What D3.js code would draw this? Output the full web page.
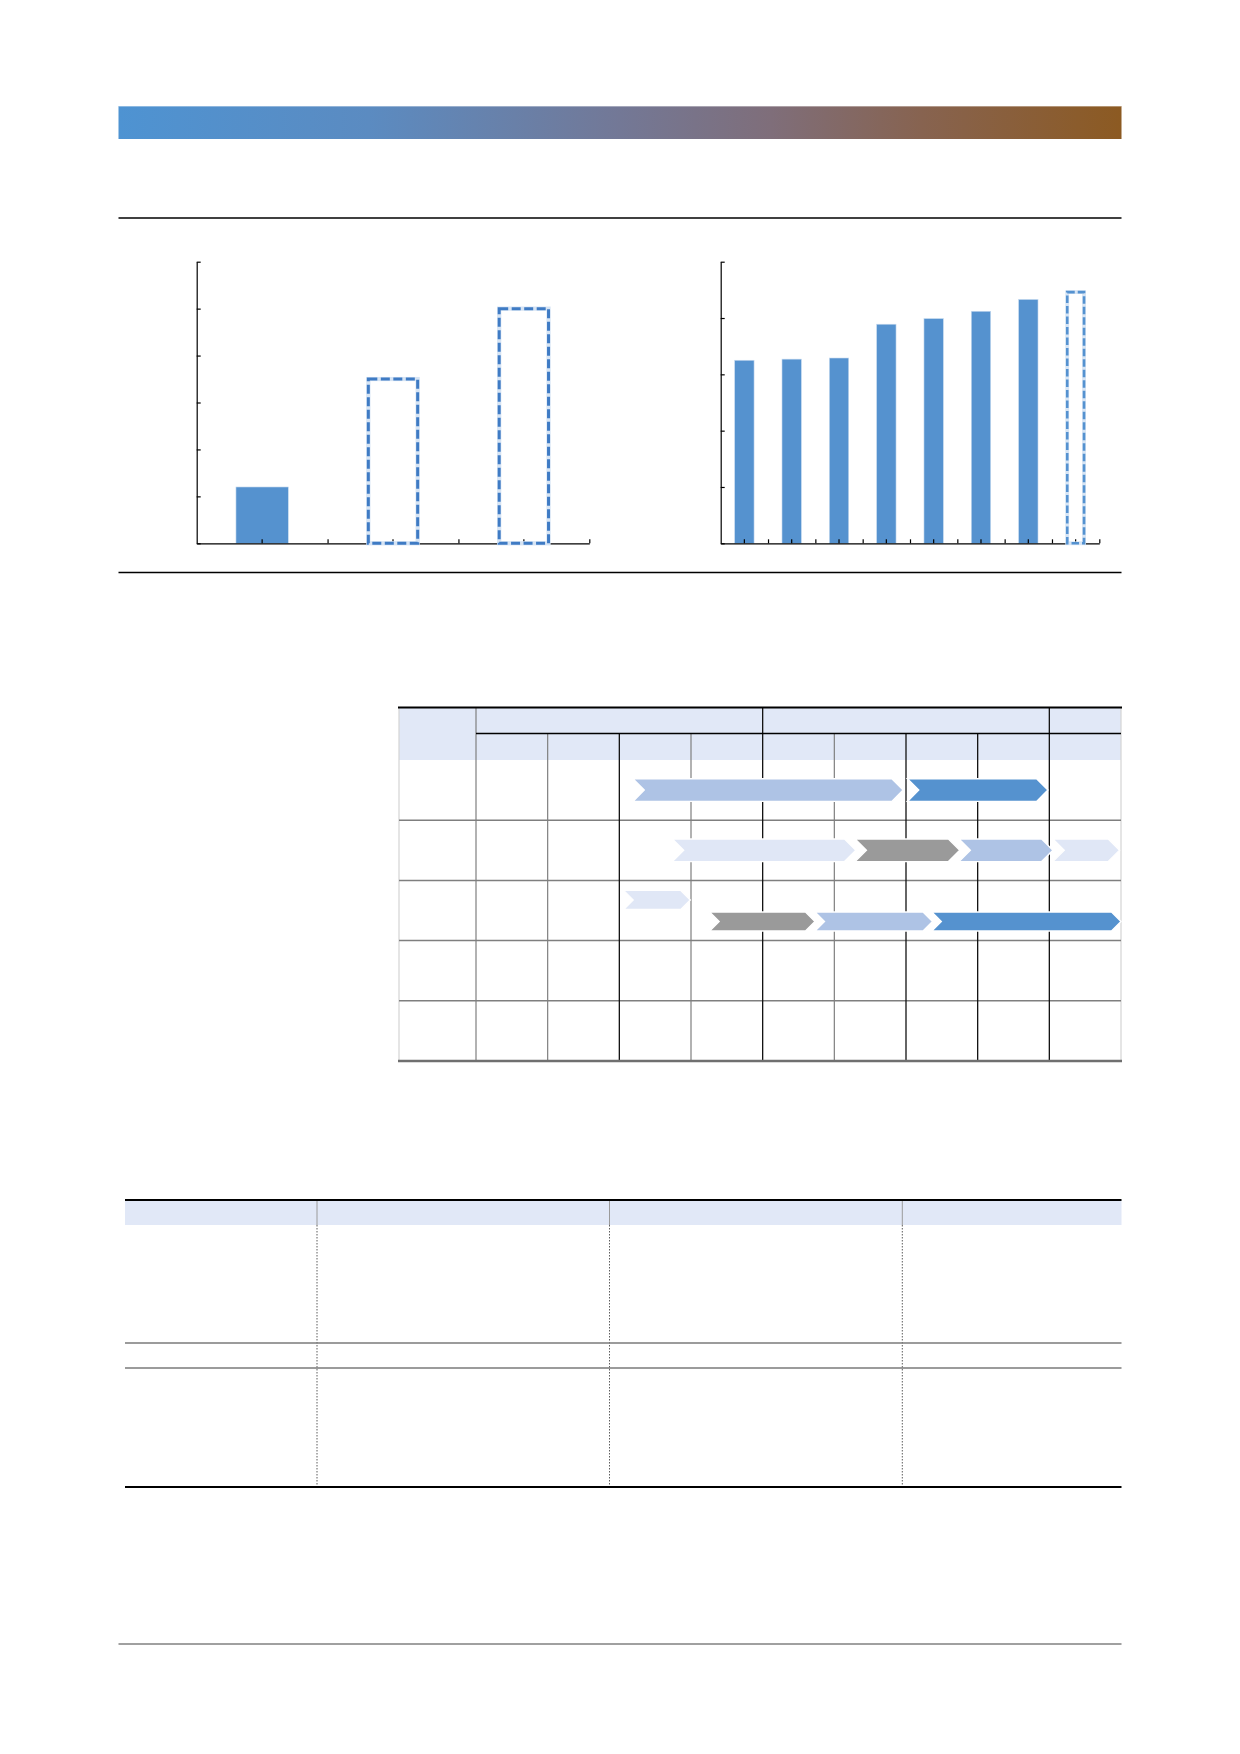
<!DOCTYPE html>
<html><head><meta charset="utf-8">
<script src="https://cdn.jsdelivr.net/npm/d3@7"></script>
<style>html,body{margin:0;padding:0;background:#fff}svg{display:block}</style>
</head><body>
<script>
// ---------- DATA ----------
const leftCategories = ["c1", "c2", "c3"];
const leftValues = [1.2, 3.5, 5.0];
const leftProjected = [false, true, true];
const leftTicks = [0, 1, 2, 3, 4, 5, 6];

const rightCategories = ["r1", "r2", "r3", "r4", "r5", "r6", "r7", "r8"];
const rightValues = [3.25, 3.27, 3.29, 3.89, 3.99, 4.12, 4.33, 4.46];
const rightProjected = [false, false, false, false, false, false, false, true];
const rightTicks = [0, 1, 2, 3, 4, 5];

const ganttPeriods = ["p1", "p2", "p3", "p4", "p5", "p6", "p7", "p8", "p9"];
const ganttGroupStarts = [0, 4, 8];
const ganttGroupSpans = [4, 4, 1];
const ganttRows = ["g1", "g2", "g3", "g4", "g5"];
const ganttRowLanes = [1, 1, 2, 1, 1];
const ganttStrongBoundaries = [2, 4, 6, 7, 8];
const ganttTasks = [
  {row: 0, lane: 0, start: 2.19, end: 5.96, kind: "mid"},
  {row: 0, lane: 0, start: 6.02, end: 7.98, kind: "dark"},
  {row: 1, lane: 0, start: 2.74, end: 5.30, kind: "pale"},
  {row: 1, lane: 0, start: 5.29, end: 6.75, kind: "gray"},
  {row: 1, lane: 0, start: 6.74, end: 8.05, kind: "mid"},
  {row: 1, lane: 0, start: 8.05, end: 8.98, kind: "pale"},
  {row: 2, lane: 0, start: 2.06, end: 2.99, kind: "pale"},
  {row: 2, lane: 1, start: 3.26, end: 4.73, kind: "gray"},
  {row: 2, lane: 1, start: 4.73, end: 6.37, kind: "mid"},
  {row: 2, lane: 1, start: 6.36, end: 9.00, kind: "dark"}
];

const tableColumns = ["t1", "t2", "t3", "t4"];
const tableRows = ["h", "b1", "b2", "b3"];

// ---------- STYLE ----------
const BAR = "#5592cf";
const DASH1 = "#3f7bc4";
const DASH2 = "#5592d0";
const HEAD = "#e1e8f7";
const kindColor = {pale: "#e0e7f6", mid: "#aec3e5", dark: "#5592cf", gray: "#9a9a9a"};

const svg = d3.select("body").append("svg").attr("width", 1240).attr("height", 1754);
svg.append("rect").attr("width", 1240).attr("height", 1754).attr("fill", "#fff");

// ---------- HEADER BAND ----------
const defs = svg.append("defs");
const grad = defs.append("linearGradient").attr("id", "band").attr("x1", 0).attr("x2", 1).attr("y1", 0).attr("y2", 0);
[[0, "#4e93d2"], [0.25, "#5b8bc1"], [0.5, "#737896"], [0.65, "#7f6e7a"], [0.8, "#876350"], [1, "#8c5a22"]]
  .forEach(([o, c]) => grad.append("stop").attr("offset", o).attr("stop-color", c));
svg.append("rect").attr("x", 118.5).attr("y", 106).attr("width", 1003).attr("height", 33).attr("fill", "url(#band)");
svg.append("line").attr("x1", 118.5).attr("x2", 1121.5).attr("y1", 106.5).attr("y2", 106.5)
  .attr("stroke", "#fff").attr("stroke-opacity", 0.35).attr("stroke-width", 1);

// rules around charts
[218, 572.5].forEach(y => svg.append("line").attr("x1", 118.5).attr("x2", 1121.5).attr("y1", y).attr("y2", y)
  .attr("stroke", "#000").attr("stroke-width", 1.4));

// ---------- BAR CHART helper ----------
function barChart(opts) {
  const g = svg.append("g");
  const x = d3.scaleBand().domain(opts.categories).range([opts.x0, opts.x1])
    .paddingInner(opts.pad).paddingOuter(opts.pad / 2);
  const y = d3.scaleLinear().domain([0, d3.max(opts.ticks)]).range([opts.y0, opts.y1]);
  const xi = d3.scaleLinear().domain([0, opts.categories.length]).range([opts.x0, opts.x1]);

  // bars
  opts.categories.forEach((c, i) => {
    const v = opts.values[i];
    if (!opts.projected[i]) {
      g.append("rect").attr("x", x(c)).attr("y", y(v)).attr("width", x.bandwidth())
        .attr("height", y(0) - y(v)).attr("fill", BAR).attr("stroke", "#c9dcf0").attr("stroke-width", 0.6);
    }
  });

  // axes
  const ya = d3.axisLeft(y).tickValues(opts.ticks).tickSize(-4).tickSizeOuter(0).tickFormat(() => "");
  g.append("g").attr("transform", `translate(${opts.x0},0)`).call(ya)
    .call(s => s.selectAll("path,line").attr("stroke", "#000").attr("stroke-width", 1.2));
  const xa = d3.axisBottom(x).tickSize(-4).tickSizeOuter(0).tickFormat(() => "");
  g.append("g").attr("transform", `translate(0,${opts.y0})`).call(xa)
    .call(s => s.selectAll("path,line").attr("stroke", "#000").attr("stroke-width", 1.2));
  const xb = d3.axisBottom(xi).tickValues(d3.range(1, opts.categories.length + 1)).tickSize(-4).tickSizeOuter(0).tickFormat(() => "");
  g.append("g").attr("transform", `translate(0,${opts.y0})`).call(xb)
    .call(s => s.select("path").remove())
    .call(s => s.selectAll("line").attr("stroke", "#000").attr("stroke-width", 1.2));

  // projected (dashed) bars on top
  opts.categories.forEach((c, i) => {
    const v = opts.values[i];
    if (opts.projected[i]) {
      const inset = opts.dashWidth / 2;
      g.append("rect").attr("x", x(c) + inset).attr("y", y(v)).attr("width", x.bandwidth() - 2 * inset)
        .attr("height", y(0) - y(v)).attr("fill", "none")
        .attr("stroke", "#d6e4f4").attr("stroke-width", opts.dashWidth + 1.2);
      g.append("rect").attr("x", x(c) + inset).attr("y", y(v)).attr("width", x.bandwidth() - 2 * inset)
        .attr("height", y(0) - y(v)).attr("fill", "none")
        .attr("stroke", opts.dashColor).attr("stroke-width", opts.dashWidth)
        .attr("stroke-dasharray", opts.dash);
    }
  });
}

barChart({categories: leftCategories, values: leftValues, projected: leftProjected, ticks: leftTicks,
  x0: 196.7, x1: 589.3, y0: 543.3, y1: 261.7, pad: 0.6, dashColor: DASH1, dashWidth: 3, dash: "9,3.5"});
barChart({categories: rightCategories, values: rightValues, projected: rightProjected, ticks: rightTicks,
  x0: 720.7, x1: 1099.3, y0: 543.3, y1: 261.7, pad: 0.59, dashColor: DASH2, dashWidth: 2.6, dash: "7.5,3"});

// ---------- GANTT TABLE ----------
(function () {
  const g = svg.append("g");
  const left = 399, labelRight = 476, right = 1121;
  const top = 707.5, mid = 733.5, headBottom = 760, bottom = 1061;
  const px = d3.scaleLinear().domain([0, ganttPeriods.length]).range([labelRight, right]);
  const ry = d3.scaleBand().domain(ganttRows).range([headBottom, bottom]);

  g.append("rect").attr("x", left).attr("y", top).attr("width", right - left).attr("height", headBottom - top).attr("fill", HEAD);

  // outer light borders
  [left, right].forEach(x => g.append("line").attr("x1", x).attr("x2", x).attr("y1", top).attr("y2", bottom)
    .attr("stroke", "#d4d4d4").attr("stroke-width", 1.2));

  // row lines
  ganttRows.slice(1).forEach(r => g.append("line").attr("x1", left).attr("x2", right)
    .attr("y1", ry(r)).attr("y2", ry(r)).attr("stroke", "#7f7f7f").attr("stroke-width", 1.5));

  // label column line
  g.append("line").attr("x1", labelRight).attr("x2", labelRight).attr("y1", top).attr("y2", bottom)
    .attr("stroke", "#7f7f7f").attr("stroke-width", 1.2);

  // period boundaries
  d3.range(1, ganttPeriods.length).forEach(b => {
    const isGroup = ganttGroupStarts.includes(b);
    const strong = ganttStrongBoundaries.includes(b);
    g.append("line").attr("x1", px(b)).attr("x2", px(b)).attr("y1", isGroup ? top : mid).attr("y2", bottom)
      .attr("stroke", strong ? "#111" : "#7f7f7f").attr("stroke-width", strong ? 1.3 : 1.2);
  });

  // header lines
  g.append("line").attr("x1", labelRight).attr("x2", right).attr("y1", mid).attr("y2", mid)
    .attr("stroke", "#000").attr("stroke-width", 1.4);
  g.append("line").attr("x1", left - 1).attr("x2", right + 1).attr("y1", top).attr("y2", top)
    .attr("stroke", "#000").attr("stroke-width", 2.2);
  g.append("line").attr("x1", left - 1).attr("x2", right + 1).attr("y1", bottom).attr("y2", bottom)
    .attr("stroke", "#6f6f6f").attr("stroke-width", 2.6);

  // chevrons
  ganttTasks.forEach(t => {
    const lanes = ganttRowLanes[t.row];
    const rTop = ry(ganttRows[t.row]), rh = ry.bandwidth();
    const cy = lanes === 1 ? rTop + rh / 2 : rTop + rh / 2 + (t.lane === 0 ? -10.6 : 11);
    const h = lanes === 1 ? 22.6 : 19;
    const d = h / 2;
    const x0 = px(t.start), x1 = px(t.end), y0 = cy - h / 2;
    const path = `M${x0},${y0} L${x1 - d},${y0} L${x1},${cy} L${x1 - d},${y0 + h} L${x0},${y0 + h} L${x0 + d},${cy} Z`;
    g.append("path").attr("d", path).attr("fill", kindColor[t.kind])
      .attr("stroke", "#fff").attr("stroke-width", 1.4).attr("stroke-linejoin", "miter");
  });
})();

// ---------- BOTTOM TABLE ----------
(function () {
  const g = svg.append("g");
  const colEdges = [125, 317, 609.5, 902.3, 1121.5];
  const rowEdges = [1200, 1225, 1343, 1368, 1487];
  g.append("rect").attr("x", colEdges[0]).attr("y", rowEdges[0]).attr("width", colEdges[4] - colEdges[0])
    .attr("height", rowEdges[1] - rowEdges[0]).attr("fill", HEAD);
  tableColumns.slice(1).forEach((c, i) => {
    const x = colEdges[i + 1];
    g.append("line").attr("x1", x).attr("x2", x).attr("y1", rowEdges[0]).attr("y2", rowEdges[1])
      .attr("stroke", "#9a9a9a").attr("stroke-width", 1);
    g.append("line").attr("x1", x).attr("x2", x).attr("y1", rowEdges[1]).attr("y2", rowEdges[4])
      .attr("stroke", "#333").attr("stroke-width", 0.8).attr("stroke-dasharray", "1.5,1.5");
  });
  tableRows.slice(2).forEach((r, i) => {
    const y = rowEdges[i + 2];
    g.append("line").attr("x1", colEdges[0]).attr("x2", colEdges[4]).attr("y1", y).attr("y2", y)
      .attr("stroke", "#7a7a7a").attr("stroke-width", 1.6);
  });
  [rowEdges[0], rowEdges[4]].forEach(y => g.append("line").attr("x1", colEdges[0]).attr("x2", colEdges[4])
    .attr("y1", y).attr("y2", y).attr("stroke", "#000").attr("stroke-width", 2));
})();

// footer rule
svg.append("line").attr("x1", 118.5).attr("x2", 1121.5).attr("y1", 1644).attr("y2", 1644)
  .attr("stroke", "#808080").attr("stroke-width", 1.6);
</script>
</body></html>
